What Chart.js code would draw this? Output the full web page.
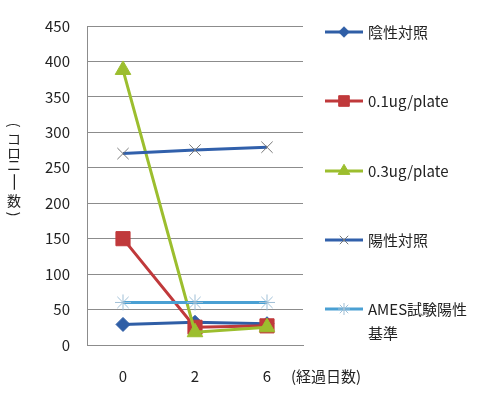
<!DOCTYPE html>
<html>
<head>
<meta charset="utf-8">
<script src="https://cdn.jsdelivr.net/npm/chart.js@4"></script>
<style>
  html, body { margin: 0; padding: 0; background: #fff; }
  #wrap { width: 500px; height: 393px; }
</style>
</head>
<body>
<div id="wrap"><canvas id="chart" width="500" height="393"></canvas></div>
<script>
const days = ['0', '2', '6'];
const negative = [29, 32, 30];
const dose01 = [150, 25, 27];
const dose03 = [388, 18, 25];
const positive = [270, 275, 279];
const amesLine = [60, 60, 60];
const yTicks = [0, 50, 100, 150, 200, 250, 300, 350, 400, 450];

const FONT = '"Noto Sans CJK JP", "Noto Sans", sans-serif';

const series = [
    { label: ['陰性対照'], data: negative, color: '#2f5ea6', point: 'rectRot', radius: 7, pointColor: '#2f5ea6', pointBorder: '#2f5ea6' },
    { label: ['0.1ug/plate'], data: dose01, color: '#c0393b', point: 'rect', radius: 10, pointColor: '#c0393b', pointBorder: '#c0393b' },
    { label: ['0.3ug/plate'], data: dose03, color: '#9cbe2e', point: 'triangle', radius: 9, pointColor: '#9cbe2e', pointBorder: '#9cbe2e' },
    { label: ['陽性対照'], data: positive, color: '#3160ab', point: 'crossRot', radius: 8, pointColor: '#777', pointBorder: '#777' },
    { label: ['AMES試験陽性', '基準'], data: amesLine, color: '#4aa0d3', point: 'star', radius: 8, pointColor: '#9fbfd6', pointBorder: '#9fbfd6' }
];

// legend on the right, line + marker like Excel
const sideLegend = {
    id: 'sideLegend',
    afterDraw(chart) {
        const ctx = chart.ctx;
        const rows = [32, 101, 171, 240, 309];
        ctx.save();
        series.forEach((s, i) => {
            const y = rows[i];
            ctx.strokeStyle = s.color;
            ctx.lineWidth = 3;
            ctx.beginPath();
            ctx.moveTo(325, y);
            ctx.lineTo(363, y);
            ctx.stroke();
            ctx.fillStyle = s.pointColor;
            ctx.strokeStyle = s.pointBorder;
            ctx.lineWidth = 1;
            Chart.helpers.drawPoint(ctx, {
                pointStyle: s.point,
                radius: s.radius * 0.75,
                borderWidth: 1
            }, 344, y);
            ctx.fillStyle = '#222';
            ctx.font = '15px ' + FONT;
            ctx.textBaseline = 'middle';
            ctx.textAlign = 'left';
            s.label.forEach((t, j) => ctx.fillText(t, 368, y + j * 24));
        });

        // x axis unit
        ctx.fillText('(経過日数)', 291, 376);

        // vertical y title (tategaki): rotate brackets and long vowel mark
        const chars = ['(', 'コ', 'ロ', 'ニ', 'ー', '数', ')'];
        const ys = [125, 139, 153, 165, 182, 201, 214];
        const turned = ['(', 'ー', ')'];
        ctx.textAlign = 'center';
        ctx.font = '14px ' + FONT;
        chars.forEach((c, i) => {
            ctx.save();
            ctx.translate(14, ys[i]);
            if (turned.includes(c)) {
                ctx.rotate(Math.PI / 2);
                if (c === 'ー') ctx.scale(1.4, 1);
            }
            ctx.fillText(c, 0, 0);
            ctx.restore();
        });
        ctx.restore();
    }
};

new Chart(document.getElementById('chart'), {
    type: 'line',
    data: {
        labels: days,
        datasets: series.map((s, i) => ({
            label: s.label.join(''),
            data: s.data,
            borderColor: s.color,
            borderWidth: 3,
            backgroundColor: s.pointColor,
            pointStyle: s.point,
            pointRadius: s.radius,
            pointBackgroundColor: s.pointColor,
            pointBorderColor: s.pointBorder,
            pointBorderWidth: 1,
            fill: false,
            tension: 0,
            order: series.length - i
        }))
    },
    options: {
        responsive: false,
        animation: false,
        layout: { padding: { top: 20, right: 197, left: 0, bottom: 0 } },
        plugins: {
            legend: { display: false },
            tooltip: { enabled: false }
        },
        scales: {
            x: {
                offset: true,
                grid: { display: false, drawTicks: false },
                border: { color: '#8c8c8c', width: 1 },
                ticks: { color: '#222', padding: 22, font: { size: 15, family: FONT } },
                afterFit: (scale) => { scale.height = 48; }
            },
            y: {
                min: 0,
                max: 450,
                afterBuildTicks: (scale) => { scale.ticks = yTicks.map(v => ({ value: v })); },
                grid: { color: '#8c8c8c', drawTicks: false },
                border: { color: '#8c8c8c', width: 1 },
                ticks: { color: '#222', padding: 17, font: { size: 15, family: FONT } },
                afterFit: (scale) => { scale.width = 87; }
            }
        }
    },
    plugins: [sideLegend]
});
</script>
</body>
</html>
